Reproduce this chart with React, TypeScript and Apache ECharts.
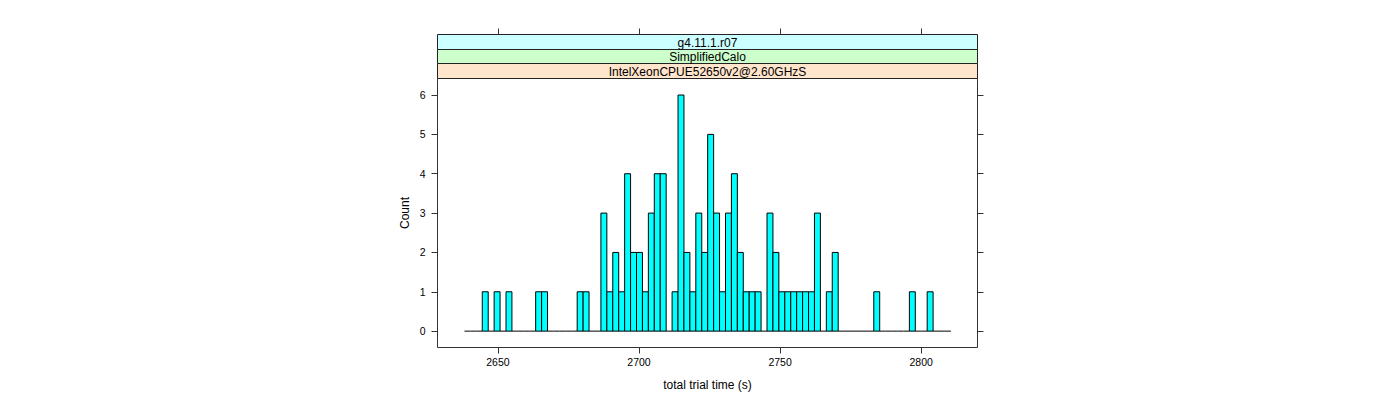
import React, { useEffect, useRef } from "react";
import * as echarts from "echarts";

// Histogram counts per bin, 82 equal-width bins
const counts: number[] = [
  0, 0, 0, 1, 0, 1, 0, 1, 0, 0,
  0, 0, 1, 1, 0, 0, 0, 0, 0, 1,
  1, 0, 0, 3, 1, 2, 1, 4, 2, 2,
  1, 3, 4, 4, 0, 1, 6, 2, 1, 3,
  2, 5, 3, 1, 3, 4, 2, 1, 1, 1,
  0, 3, 2, 1, 1, 1, 1, 1, 1, 3,
  0, 1, 2, 0, 0, 0, 0, 0, 0, 1,
  0, 0, 0, 0, 0, 1, 0, 0, 1, 0,
  0, 0,
];
const breakStart = 2638.16;
const binWidth = 2.102;

const xTicks = [2650, 2700, 2750, 2800];
const yTicks = [0, 1, 2, 3, 4, 5, 6];
const xRange = [2628.6, 2819.95];
const yRange = [-0.416, 6.42];

const stripLabels = ["g4.11.1.r07", "SimplifiedCalo", "IntelXeonCPUE52650v2@2.60GHzS"];
const stripColors = ["#ccffff", "#ccffcc", "#ffe5cc"];

const xTitle = "total trial time (s)";
const yTitle = "Count";

const FONT = "'Liberation Sans', Arial, Helvetica, sans-serif";

export default function App() {
  const ref = useRef<HTMLDivElement>(null);
  useEffect(() => {
    if (!ref.current) return;
    const chart = echarts.init(ref.current, undefined, { renderer: "svg" });

    const binData = counts.map((c, i) => [
      breakStart + i * binWidth,
      breakStart + (i + 1) * binWidth,
      c,
    ]);

    const left = 437.5;
    const right = 977.5;
    const top = 78.5;
    const bottom = 347.5;
    const stripEdges = [34.5, 49.5, 63.5, 78.5];

    const graphics: any[] = [];
    stripLabels.forEach((lab, i) => {
      graphics.push({
        type: "rect",
        shape: { x: left, y: stripEdges[i], width: right - left, height: stripEdges[i + 1] - stripEdges[i] },
        style: { fill: stripColors[i], stroke: "#222", lineWidth: 1 },
        z: 10,
      });
      graphics.push({
        type: "text",
        x: (left + right) / 2,
        y: (stripEdges[i] + stripEdges[i + 1]) / 2 + 0.5,
        style: {
          text: lab,
          fill: "#000",
          font: `12px ${FONT}`,
          textAlign: "center",
          textVerticalAlign: "middle",
        },
        z: 11,
      });
    });

    const tickStyle = { color: "#333", width: 1 };
    const plain = (v: number) => String(v);
    const hiddenLine = { show: false, onZero: false };

    chart.setOption({
      animation: false,
      backgroundColor: "#fff",
      grid: {
        left: left,
        right: 1400 - right,
        top: top,
        bottom: 400 - bottom,
        show: true,
        borderColor: "#333",
        borderWidth: 1,
        backgroundColor: "transparent",
      },
      xAxis: [
        {
          type: "value",
          position: "bottom",
          min: xRange[0],
          max: xRange[1],
          axisLine: hiddenLine,
          splitLine: { show: false },
          axisTick: { show: true, length: 6, lineStyle: tickStyle, customValues: xTicks },
          axisLabel: { customValues: xTicks, formatter: plain, fontSize: 10.5, color: "#000", margin: 9, fontFamily: FONT },
          name: xTitle,
          nameLocation: "middle",
          nameGap: 31,
          nameTextStyle: { fontSize: 12, color: "#000", fontFamily: FONT },
        },
        {
          type: "value",
          position: "top",
          offset: top - stripEdges[0],
          min: xRange[0],
          max: xRange[1],
          z: 20,
          axisLine: hiddenLine,
          splitLine: { show: false },
          axisTick: { show: true, length: 6, lineStyle: tickStyle, customValues: xTicks },
          axisLabel: { show: false },
        },
      ],
      yAxis: [
        {
          type: "value",
          position: "left",
          min: yRange[0],
          max: yRange[1],
          axisLine: hiddenLine,
          splitLine: { show: false },
          axisTick: { show: true, length: 6, lineStyle: tickStyle, customValues: yTicks },
          axisLabel: { customValues: yTicks, formatter: plain, fontSize: 10.5, color: "#000", margin: 12, fontFamily: FONT },
          name: yTitle,
          nameLocation: "middle",
          nameGap: 27,
          nameTextStyle: { fontSize: 12, color: "#000", fontFamily: FONT },
        },
        {
          type: "value",
          position: "right",
          min: yRange[0],
          max: yRange[1],
          axisLine: hiddenLine,
          splitLine: { show: false },
          axisTick: { show: true, length: 6, lineStyle: tickStyle, customValues: yTicks },
          axisLabel: { show: false },
        },
      ],
      graphic: graphics,
      series: [
        {
          type: "custom",
          xAxisIndex: 0,
          yAxisIndex: 0,
          data: binData,
          renderItem: (_params: any, api: any) => {
            const x0 = api.value(0);
            const x1 = api.value(1);
            const c = api.value(2);
            const pTop = api.coord([x0, c]);
            const pBase = api.coord([x1, 0]);
            if (c === 0) {
              return {
                type: "line",
                shape: { x1: pTop[0], y1: pBase[1], x2: pBase[0], y2: pBase[1] },
                style: { stroke: "#000", lineWidth: 1 },
              };
            }
            return {
              type: "rect",
              shape: { x: pTop[0], y: pTop[1], width: pBase[0] - pTop[0], height: pBase[1] - pTop[1] },
              style: { fill: "#00ffff", stroke: "#000", lineWidth: 1 },
            };
          },
        },
      ],
    });

    return () => chart.dispose();
  }, []);

  return (
    <div
      ref={ref}
      style={{ position: "fixed", left: 0, top: 0, width: 1400, height: 400, background: "#fff" }}
    />
  );
}
